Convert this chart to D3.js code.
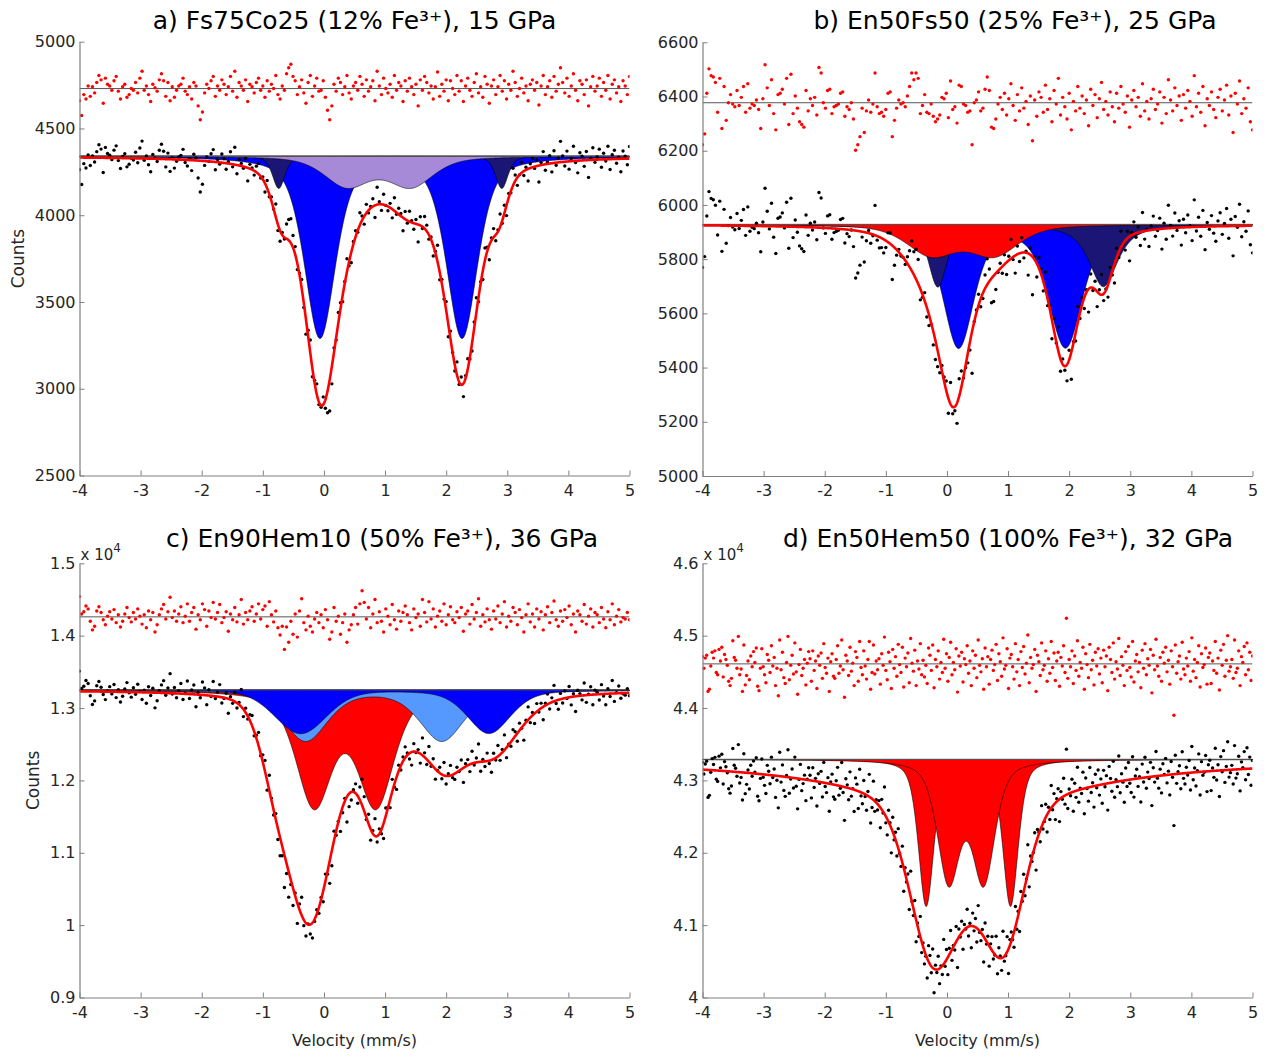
<!DOCTYPE html>
<html>
<head>
<meta charset="utf-8">
<script src="https://cdnjs.cloudflare.com/ajax/libs/d3/7.8.5/d3.min.js"></script>
<style>
body { margin: 0; background: #fff; }
svg text { font-family: "DejaVu Sans", Verdana, sans-serif; }
</style>
</head>
<body>
<svg id="chart" width="1270" height="1057"></svg>
<script>
/*  Mossbauer spectra, 4 panels  */
var velocityRange = [-4, 5];
var velocityTicks = [-4, -3, -2, -1, 0, 1, 2, 3, 4, 5];

// one absorption line = [centre (mm/s), half width (mm/s), depth (counts), lorentz fraction]

// a) Fs75Co25
var aTitle = "a) Fs75Co25 (12% Fe³⁺), 15 GPa";
var aYTicks = [2500, 3000, 3500, 4000, 4500, 5000];
var aBaseline = 4340, aResidLine = 4730;
var aBlue = [[-0.065, 0.3, 1042, 0.5], [2.26, 0.3, 1042, 0.5]];
var aNavy = [[-0.74, 0.12, 186, 0.5], [2.91, 0.12, 186, 0.5]];
var aPurple = [[0.38, 0.44, 171, 0.5], [1.42, 0.44, 171, 0.5]];
var aFit = [[-0.05, 0.32, 1300, 0.45], [2.26, 0.32, 1255, 0.45], [-0.7, 0.18, 260, 0.5],
            [2.87, 0.17, 220, 0.5], [0.38, 0.44, 205, 0.5], [1.42, 0.44, 256, 0.5]];
var aResid = [
 -70,-155,-35,-60,15,-45,10,-25,35,75,50,-85,60,25,15,-10,
 45,70,-15,-60,10,25,-50,-35,0,-10,35,-25,60,100,-10,15,
 -35,-75,25,5,-15,50,85,45,-45,35,-70,10,-50,-10,15,25,
 60,-15,-35,10,-60,35,15,-100,-180,-135,-25,25,0,45,70,-45,
 15,-10,50,25,-35,10,70,-15,100,-50,35,15,-10,50,-75,25,
 10,-25,35,60,-10,15,-50,45,-15,25,0,75,-35,-60,15,-10,
 85,120,140,70,45,-35,10,50,-25,-85,35,75,-45,15,60,-15,
 -10,45,-50,-125,-180,-100,25,-15,60,35,-35,10,75,-25,-60,15,
 35,-10,70,25,-45,50,-15,10,45,-70,100,15,-35,60,0,-25,
 25,-50,75,-10,35,15,-75,45,-15,60,10,-35,25,-100,50,-10,
 70,35,-25,15,-60,10,95,-45,25,-15,50,-70,45,0,-35,75,
 -15,45,-75,15,60,-10,-45,35,85,-25,10,-50,70,25,-85,15,
 50,-35,10,75,-15,45,-60,25,-10,100,35,-45,0,60,-25,15,
 -70,25,50,-10,35,-95,15,75,-35,10,45,-50,70,-15,25,120,
 35,-25,60,-45,15,85,-10,-70,45,25,-35,50,-100,10,70,-15,
 15,60,-45,35,-10,75,-60,25,50,-25,10,-75,45,15,-35,70];

// b) En50Fs50
var bTitle = "b) En50Fs50 (25% Fe³⁺), 25 GPa";
var bYTicks = [5000, 5200, 5400, 5600, 5800, 6000, 6200, 6400, 6600];
var bBaseline = 5928, bResidLine = 6377;
var bBlue = [[0.19, 0.3, 450, 0.5], [1.94, 0.33, 450, 0.5]];
var bNavy = [[-0.15, 0.18, 229, 0.5], [2.56, 0.28, 229, 0.8]];
var bRed = [[-0.25, 0.48, 110, 0.5], [0.77, 0.48, 110, 0.5]];
var bFit = [[-0.3, 0.45, 150, 0.5], [0.12, 0.3, 563, 0.5], [0.75, 0.4, 100, 0.5],
            [1.93, 0.28, 498, 0.5], [2.56, 0.2, 200, 0.5]];
var bResid = [
 -155,-115,35,125,100,95,75,-35,90,-95,60,-65,0,30,-5,-15,
 45,-10,20,60,-35,70,-20,-5,-10,10,-25,-95,15,140,55,-10,
 85,-40,-100,30,35,50,-5,90,-80,105,-40,25,-20,-70,-80,-90,
 45,-30,15,-10,20,-45,130,110,0,-20,45,50,-40,-15,-10,-5,
 35,40,-50,-15,-25,0,-60,-175,-155,-125,-20,-110,-30,10,-35,-5,
 110,-15,-40,-35,-50,-25,35,40,-125,-65,-20,10,-5,0,-15,25,
 60,110,85,110,90,-40,-10,30,-35,-40,-5,-50,-70,-60,-45,20,
 15,35,-55,80,-25,-15,-75,65,60,-5,-10,-35,-30,-155,0,10,
 40,-30,-20,50,95,45,-90,-95,-60,-5,20,-25,35,-45,15,70,
 -10,-65,30,-30,55,-20,5,-80,25,-140,10,-50,40,20,-35,65,
 -25,15,-70,45,-5,90,-45,20,-15,-60,35,-100,5,-30,60,-20,
 25,-40,10,-85,50,-10,30,-55,15,75,-25,5,-45,40,-15,-70,
 35,-20,60,-5,-35,25,-90,10,45,-15,20,-50,70,-30,5,-60,
 15,50,-25,-5,40,-75,20,-40,85,10,-30,55,-10,25,-65,30,
 -20,45,5,-50,100,-15,35,-35,60,-85,15,-10,40,-25,-55,20,
 50,-30,10,65,-45,25,-110,35,-5,80,-40,15,-20,55,-70,-100];

// c) En90Hem10
var cTitle = "c) En90Hem10 (50% Fe³⁺), 36 GPa";
var cYTicks = [9000, 10000, 11000, 12000, 13000, 14000, 15000];
var cBaseline = 13250, cResidLine = 14260;
var cRed = [[-0.16, 0.35, 1570, 0.5], [0.85, 0.35, 1570, 0.5]];
var cLightBlue = [[-0.3, 0.43, 700, 0.5], [1.93, 0.43, 700, 0.5]];
var cBlue = [[-0.38, 0.5, 600, 0.2], [2.7, 0.42, 600, 0.4]];
var cFit = [[-0.23, 0.45, 3050, 0.2], [-0.8, 0.3, 650, 0.2], [0.86, 0.28, 1200, 0.5],
            [0.9, 0.5, 600, 0.5], [1.98, 0.45, 900, 0.5], [2.8, 0.5, 750, 0.5]];
var cResid = [
 280,40,70,150,110,-60,-180,-130,80,140,60,-40,-110,10,70,-30,
 100,-80,30,-140,-60,40,130,-10,-70,60,-30,110,10,-100,30,-150,
 80,-40,60,-210,-110,30,110,170,-30,70,270,-10,80,-60,40,140,
 -80,10,180,-60,60,130,-170,30,-40,180,100,-130,80,-10,200,-30,
 60,170,-80,-10,70,-200,40,-40,130,-70,30,240,-100,60,-40,80,
 140,-60,40,180,-30,100,150,-130,210,30,-70,80,-150,-250,-130,-450,
 -140,-350,-60,-240,40,-280,80,250,-80,-180,10,-130,-210,-30,60,-80,
 30,-150,100,-40,-310,-210,130,-60,10,-240,-80,40,-350,-180,-110,30,
 130,-100,180,360,200,-30,130,-150,40,240,-80,70,-60,-210,110,10,
 -110,170,-40,-170,80,-60,60,150,30,-80,-180,110,-10,40,-130,240,
 60,-70,210,-30,110,-140,10,80,-60,180,-110,30,140,-40,-80,70,
 -10,130,-200,40,80,-100,170,-30,60,250,-130,30,-70,110,-40,-170,
 80,-30,150,-80,40,210,-140,10,-60,130,60,-110,100,-10,-210,30,
 180,-70,40,-140,110,-30,70,-180,30,140,-80,60,220,-40,-130,80,
 -60,100,-10,150,-110,40,-210,80,30,-60,170,-100,10,110,-140,60,
 30,-80,130,-30,-150,70,-40,180,-110,10,100,-70,-10,-30,60,-40];

// d) En50Hem50
var dTitle = "d) En50Hem50 (100% Fe³⁺), 32 GPa";
var dYTicks = [40000, 41000, 42000, 43000, 44000, 45000, 46000];
var dBaseline = 43290, dResidLine = 44610;
var dOuter = [[-0.34, 0.15, 2020, 0.5], [1.04, 0.15, 2020, 0.5]];
var dInner = [[0.03, 0.22, 1650, 0.5], [0.6, 0.22, 1650, 0.5]];
var dFit = [[0.35, 2.4, 560, 1], [-0.26, 0.44, 1960, 0.25], [0.3, 0.5, 760, 0], [0.95, 0.4, 1880, 0.25]];
var dResid = [
 100,-60,80,120,-380,-350,-30,160,80,180,-120,-150,200,40,230,-180,
 130,60,-20,-240,-300,-200,320,90,50,-60,380,-150,-70,-380,260,-290,
 -160,40,-220,110,-40,170,20,220,-310,-370,-60,210,-40,-150,-260,130,
 50,-120,250,-30,90,-300,-60,-440,330,-80,160,-190,-270,20,380,-220,
 -20,120,-140,290,-110,-420,-10,200,-160,-60,60,-290,10,170,70,-240,
 180,-90,40,-340,110,-20,150,-200,280,-50,-130,80,-380,30,140,-170,
 -200,60,250,-130,-30,330,-80,-460,120,40,-160,230,-100,10,-300,170,
 90,-240,310,-50,-150,180,-30,-210,60,310,-350,-120,260,-140,40,-80,
 70,-280,140,-20,370,-90,-220,160,30,-340,200,-60,100,-170,270,-10,
 -120,230,-320,80,-40,150,-260,350,10,-100,190,-300,40,-70,280,-150,
 50,-180,-20,-270,220,120,-90,260,-330,60,-40,180,-210,20,-120,340,
 -60,140,-240,90,300,-150,20,-80,210,-390,110,-30,160,-250,70,-10,
 250,-130,40,-300,180,-60,120,-190,330,-20,-110,70,-350,220,-40,100,
 -280,60,190,-90,-10,270,-230,140,30,-170,360,-70,-20,210,-340,80,
 130,-40,-210,280,-110,60,-300,170,-50,240,-140,10,400,-260,90,-60,
 -10,200,-380,120,30,-160,290,-80,-20,180,-240,70,-130,310,-50,150,
 -230,40,160,-310,90,-30,250,-120,630,-200,60,-40,180,-270,110,-90,
 320,-170,20,-60,230,-350,140,-10,-190,270,-80,50,-290,160,-30,210,
 -140,80,-260,190,-40,110,-370,230,60,-120,290,-210,30,-70,350,-160,
 100,-20,-300,170,-90,240,-50,-180,310,-250,40,130,-110,20,-330,190,
 -60,280,-150,70,-20,200,-400,120,-80,340,-30,-170,90,-240,160,10,
 230,-110,50,-280,180,-40,-710,260,-130,30,110,-210,300,-70,-150,80,
 -30,170,-240,360,-100,60,-190,20,250,-320,140,-50,-10,220,-280,90,
 150,-270,40,-90,310,-130,80,-360,190,-20,270,-170,50,390,-100,-40,
 60,-200,330,-120,-60,180,-300,100,20,240,-150,290,-80,160,-230,110];

var BLUE = "#0000ff", NAVY = "#1b1675", PURPLE = "#a68ad8", RED = "#ff0000", LIGHTBLUE = "#5599ff";

var panels = [
  {key: "a", title: aTitle, titleX: 354.5, titleY: 29, box: [79.5, 629.5, 41.7, 475.5],
   yDomain: [2500, 5000], yTicks: aYTicks, scaled: false, baseline: aBaseline, residLine: aResidLine,
   comps: [{lines: aBlue, color: BLUE}, {lines: aNavy, color: NAVY}, {lines: aPurple, color: PURPLE}],
   fit: aFit, resid: aResid, countsX: 18, velocity: false},
  {key: "b", title: bTitle, titleX: 1015, titleY: 29, box: [702.5, 1252.5, 42.3, 476],
   yDomain: [5000, 6600], yTicks: bYTicks, scaled: false, baseline: bBaseline, residLine: bResidLine,
   comps: [{lines: bBlue, color: BLUE}, {lines: bNavy, color: NAVY}, {lines: bRed, color: RED}],
   fit: bFit, resid: bResid, countsX: null, velocity: false},
  {key: "c", title: cTitle, titleX: 382, titleY: 547, box: [79.5, 629.5, 563.3, 997.5],
   yDomain: [9000, 15000], yTicks: cYTicks, scaled: true, baseline: cBaseline, residLine: cResidLine,
   comps: [{lines: cRed, color: RED}, {lines: cLightBlue, color: LIGHTBLUE}, {lines: cBlue, color: BLUE}],
   fit: cFit, resid: cResid, countsX: 33, velocity: true},
  {key: "d", title: dTitle, titleX: 1008, titleY: 547, box: [702.5, 1252.5, 563.3, 997.5],
   yDomain: [40000, 46000], yTicks: dYTicks, scaled: true, baseline: dBaseline, residLine: dResidLine,
   comps: [{lines: dOuter, color: RED}, {lines: dInner, color: RED}],
   fit: dFit, resid: dResid, countsX: null, velocity: true}
];

var svg = d3.select("#chart");
svg.append("rect").attr("width", 1270).attr("height", 1057).attr("fill", "#fff");

function lineShape(v, l) {
  var r = (v - l[0]) / l[1];
  return l[2] * (l[3] / (1 + r * r) + (1 - l[3]) * Math.exp(-Math.LN2 * r * r));
}
function absorption(v, lines) {
  return d3.sum(lines, function(l) { return lineShape(v, l); });
}

var grid = d3.range(velocityRange[0], velocityRange[1] + 0.0001, 0.005);

panels.forEach(drawPanel);

function drawPanel(p) {
  var x = d3.scaleLinear().domain(velocityRange).range([p.box[0], p.box[1]]);
  var y = d3.scaleLinear().domain(p.yDomain).range([p.box[3], p.box[2]]);
  var g = svg.append("g").attr("class", "panel-" + p.key);

  g.append("clipPath").attr("id", "clip-" + p.key)
    .append("rect")
    .attr("x", p.box[0]).attr("y", p.box[2])
    .attr("width", p.box[1] - p.box[0]).attr("height", p.box[3] - p.box[2]);
  var plot = g.append("g").attr("clip-path", "url(#clip-" + p.key + ")");

  // sub spectra, filled from the baseline
  p.comps.forEach(function(c) {
    var area = d3.area()
      .x(function(v) { return x(v); })
      .y0(y(p.baseline))
      .y1(function(v) { return y(p.baseline - absorption(v, c.lines)); });
    plot.append("path").datum(grid)
      .attr("d", area)
      .attr("fill", c.color)
      .attr("stroke", "#000")
      .attr("stroke-width", 0.6);
  });

  plot.append("line")
    .attr("x1", x(velocityRange[0])).attr("x2", x(velocityRange[1]))
    .attr("y1", y(p.baseline)).attr("y2", y(p.baseline))
    .attr("stroke", "#555").attr("stroke-width", 1);

  var n = p.resid.length;
  var pts = p.resid.map(function(r, i) {
    var v = velocityRange[0] + (velocityRange[1] - velocityRange[0]) * i / (n - 1);
    return {v: v, r: r};
  });

  plot.append("g").selectAll("circle").data(pts).enter().append("circle")
    .attr("cx", function(d) { return x(d.v); })
    .attr("cy", function(d) { return y(p.baseline - absorption(d.v, p.fit) + d.r); })
    .attr("r", 1.7)
    .attr("fill", "#000");

  var fitLine = d3.line()
    .x(function(v) { return x(v); })
    .y(function(v) { return y(p.baseline - absorption(v, p.fit)); });
  plot.append("path").datum(grid)
    .attr("d", fitLine)
    .attr("fill", "none")
    .attr("stroke", RED)
    .attr("stroke-width", 2.6);

  // residuals
  plot.append("line")
    .attr("x1", x(velocityRange[0])).attr("x2", x(velocityRange[1]))
    .attr("y1", y(p.residLine)).attr("y2", y(p.residLine))
    .attr("stroke", "#555").attr("stroke-width", 1);
  plot.append("g").selectAll("circle").data(pts).enter().append("circle")
    .attr("cx", function(d) { return x(d.v); })
    .attr("cy", function(d) { return y(p.residLine + d.r); })
    .attr("r", 1.7)
    .attr("fill", RED);

  // axes, ticks pointing inwards
  var yAxis = d3.axisLeft(y).tickValues(p.yTicks).tickSize(-5).tickSizeOuter(0).tickPadding(4)
    .tickFormat(function(d) { return p.scaled ? String(+(d / 10000).toFixed(1)) : String(d); });
  var xAxis = d3.axisBottom(x).tickValues(velocityTicks).tickSize(-5).tickSizeOuter(0).tickPadding(9)
    .tickFormat(function(d) { return String(d); });

  var gy = g.append("g").attr("transform", "translate(" + p.box[0] + ",0)").call(yAxis);
  var gx = g.append("g").attr("transform", "translate(0," + p.box[3] + ")").call(xAxis);
  [gx, gy].forEach(function(ax) {
    ax.select(".domain").attr("stroke", "#808080").attr("stroke-width", 1.2);
    ax.selectAll(".tick line").attr("stroke", "#808080");
    ax.selectAll(".tick text").attr("fill", "#262626").style("font-size", "16px")
      .style("font-family", "'DejaVu Sans', Verdana, sans-serif");
  });

  if (p.scaled) {
    var ex = g.append("text")
      .attr("x", p.box[0] + 1).attr("y", p.box[2] - 3)
      .attr("fill", "#262626").style("font-size", "15px");
    ex.append("tspan").text("x 10");
    ex.append("tspan").attr("dy", -8).style("font-size", "12px").text("4");
  }

  g.append("text")
    .attr("x", p.titleX).attr("y", p.titleY)
    .attr("text-anchor", "middle")
    .attr("fill", "#000")
    .style("font-size", "25px")
    .text(p.title);

  if (p.countsX !== null) {
    g.append("text")
      .attr("transform", "translate(" + p.countsX + "," + ((p.box[2] + p.box[3]) / 2) + ") rotate(-90)")
      .attr("text-anchor", "middle")
      .attr("dy", "0.35em")
      .attr("fill", "#262626")
      .style("font-size", "17px")
      .text("Counts");
  }
  if (p.velocity) {
    g.append("text")
      .attr("x", (p.box[0] + p.box[1]) / 2).attr("y", 1046)
      .attr("text-anchor", "middle")
      .attr("fill", "#262626")
      .style("font-size", "16px")
      .text("Velocity (mm/s)");
  }
}
</script>
</body>
</html>
